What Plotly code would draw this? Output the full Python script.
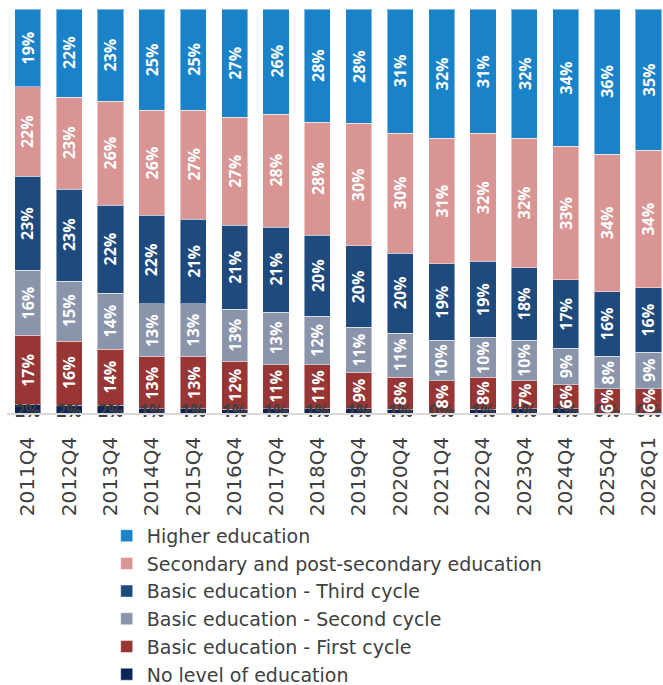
import plotly.graph_objects as go

quarters = ["2011Q4", "2012Q4", "2013Q4", "2014Q4", "2015Q4", "2016Q4", "2017Q4", "2018Q4",
            "2019Q4", "2020Q4", "2021Q4", "2022Q4", "2023Q4", "2024Q4", "2025Q4", "2026Q1"]

no_level   = [2, 2, 2, 1, 1, 1, 1, 1, 1, 1, 0, 1, 1, 1, 0, 0]
first_cyc  = [17, 16, 14, 13, 13, 12, 11, 11, 9, 8, 8, 8, 7, 6, 6, 6]
second_cyc = [16, 15, 14, 13, 13, 13, 13, 12, 11, 11, 10, 10, 10, 9, 8, 9]
third_cyc  = [23, 23, 22, 22, 21, 21, 21, 20, 20, 20, 19, 19, 18, 17, 16, 16]
secondary  = [22, 23, 26, 26, 27, 27, 28, 28, 30, 30, 31, 32, 32, 33, 34, 34]
higher     = [19, 22, 23, 25, 25, 27, 26, 28, 28, 31, 32, 31, 32, 34, 36, 35]

series = [
    ("No level of education", no_level, "#0C2357"),
    ("Basic education - First cycle", first_cyc, "#973635"),
    ("Basic education - Second cycle", second_cyc, "#8A94AB"),
    ("Basic education - Third cycle", third_cyc, "#1F4A7D"),
    ("Secondary and post-secondary education", secondary, "#D99594"),
    ("Higher education", higher, "#1982C9"),
]

FONT = "DejaVu Sans"
LABEL_FONT = "Open Sans"

fig = go.Figure()

for name, vals, color in series:
    fig.add_trace(go.Bar(
        x=quarters, y=vals, name=name,
        marker=dict(color=color, line=dict(color="rgba(255,255,255,0.45)", width=1)),
        hoverinfo="skip",
    ))

# segment labels: rotated, white, centred in each (normalised) segment
totals = [sum(s[1][k] for s in series) for k in range(len(quarters))]
base = [0.0] * len(quarters)
for i, (name, vals, color) in enumerate(series):
    for k, q in enumerate(quarters):
        share = vals[k] / totals[k] * 100
        if i > 0:
            fig.add_annotation(
                x=q, y=base[k] + share / 2,
                text=f"{vals[k]}%", textangle=-90, showarrow=False,
                font=dict(color="white", size=16, family=LABEL_FONT, weight="bold"),
            )
        base[k] += share

# labels of the thin bottom segment sit on the baseline, horizontal and dark
fig.add_trace(go.Scatter(
    x=quarters,
    y=[0] * len(quarters),
    mode="text",
    text=[f"{v}%" for v in no_level],
    textposition="middle center",
    textfont=dict(color="#404040", size=17, family=LABEL_FONT, weight="bold"),
    cliponaxis=False,
    showlegend=False,
    hoverinfo="skip",
))

fig.update_layout(
    width=663, height=685,
    barmode="stack",
    barnorm="percent",
    bargap=0.37,
    paper_bgcolor="white",
    plot_bgcolor="white",
    margin=dict(l=7, r=0, t=9, b=272, autoexpand=False),
    font=dict(family=FONT, color="#404040"),
    showlegend=True,
    legend=dict(
        traceorder="reversed",
        x=0.152, y=-0.257, xanchor="left", yanchor="top",
        font=dict(size=19, color="#404040", family=FONT),
        bgcolor="rgba(0,0,0,0)",
    ),
)
fig.update_xaxes(
    type="category",
    range=[-0.5, 15.35],
    automargin=False,
    tickangle=-90,
    tickfont=dict(size=20, color="#404040", family=FONT),
    ticklabelstandoff=14,
    showline=True, linecolor="#D9D9D9", linewidth=1.5,
    showgrid=False, ticks="",
)
fig.update_yaxes(range=[0, 100], visible=False, showgrid=False, automargin=False)

fig.write_html("out.html", config={"displayModeBar": False},
               post_script="document.body.style.margin='0';")
